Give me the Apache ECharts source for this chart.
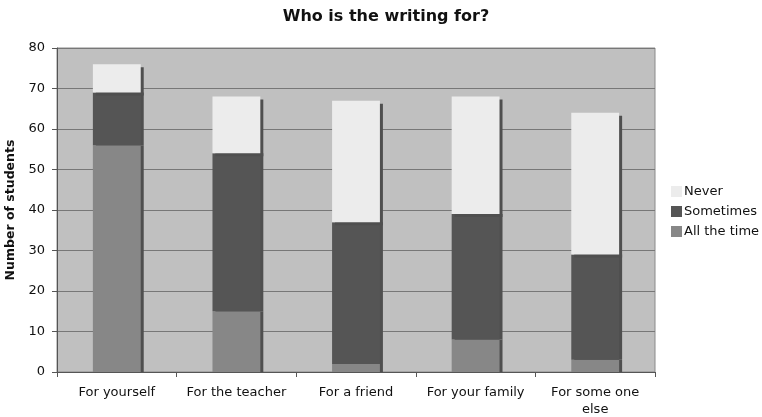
<!DOCTYPE html>
<html>
<head>
<meta charset="utf-8">
<script src="https://cdn.jsdelivr.net/npm/echarts@6/dist/echarts.min.js"></script>
<style>html,body{margin:0;padding:0;background:#fff;}#c{width:762px;height:417px;}</style>
</head>
<body>
<div id="c"></div>
<script>
const categories = ['For yourself', 'For the teacher', 'For a friend', 'For your family', 'For some one\nelse'];
const allTheTime = [56, 15, 2, 8, 3];
const sometimes = [13, 39, 35, 31, 26];
const never = [7, 14, 30, 29, 35];
const yTicks = [0, 10, 20, 30, 40, 50, 60, 70, 80];

const font = 'DejaVu Sans, Verdana, sans-serif';
const barStyle = (c, dy) => ({ color: c, shadowColor: '#4f4f4f', shadowOffsetX: 3, shadowOffsetY: dy, shadowBlur: 0 });

const chart = echarts.init(document.getElementById('c'), null, { renderer: 'canvas' });
chart.setOption({
  animation: false,
  backgroundColor: '#fff',
  title: {
    text: 'Who is the writing for?',
    left: 381, top: 4, textAlign: 'center',
    textStyle: { fontFamily: font, fontSize: 16, fontWeight: 'bold', color: '#111' }
  },
  legend: {
    orient: 'vertical', left: 666, top: 180,
    itemWidth: 11, itemHeight: 11, itemGap: 7,
    icon: 'rect',
    data: ['Never', 'Sometimes', 'All the time'],
    textStyle: { fontFamily: font, fontSize: 13, color: '#111', padding: [0, 0, 0, -3] }
  },
  grid: {
    left: 57, right: 107, top: 48, bottom: 45,
    outerBoundsMode: 'none', containLabel: false,
    show: true, backgroundColor: '#c0c0c0', borderColor: '#8a8a8a', borderWidth: 1
  },
  xAxis: {
    type: 'category', data: categories,
    axisLine: { lineStyle: { color: '#555', width: 1 } },
    axisTick: { show: true, alignWithLabel: false, length: 5, lineStyle: { color: '#555' } },
    axisLabel: { fontFamily: font, fontSize: 13, color: '#111', margin: 12, lineHeight: 17, interval: 0 }
  },
  yAxis: {
    type: 'value', min: yTicks[0], max: yTicks[yTicks.length - 1], interval: 10,
    name: 'Number of students', nameLocation: 'middle', nameGap: 37,
    nameTextStyle: { fontFamily: font, fontSize: 12.5, fontWeight: 'bold', color: '#111' },
    axisLine: { show: true, lineStyle: { color: '#555' } },
    axisTick: { show: true, length: 5, lineStyle: { color: '#555' } },
    axisLabel: { fontFamily: font, fontSize: 13, color: '#111', margin: 12 },
    splitLine: { show: true, lineStyle: { color: '#777', width: 1 } }
  },
  series: [
    { name: 'All the time', type: 'bar', stack: 's', data: allTheTime, barWidth: '40%', itemStyle: barStyle('#878787', 0) },
    { name: 'Sometimes', type: 'bar', stack: 's', data: sometimes, barWidth: '40%', itemStyle: barStyle('#555555', 0) },
    { name: 'Never', type: 'bar', stack: 's', data: never, barWidth: '40%', itemStyle: barStyle('#ececec', 3) }
  ]
});
</script>
</body>
</html>
